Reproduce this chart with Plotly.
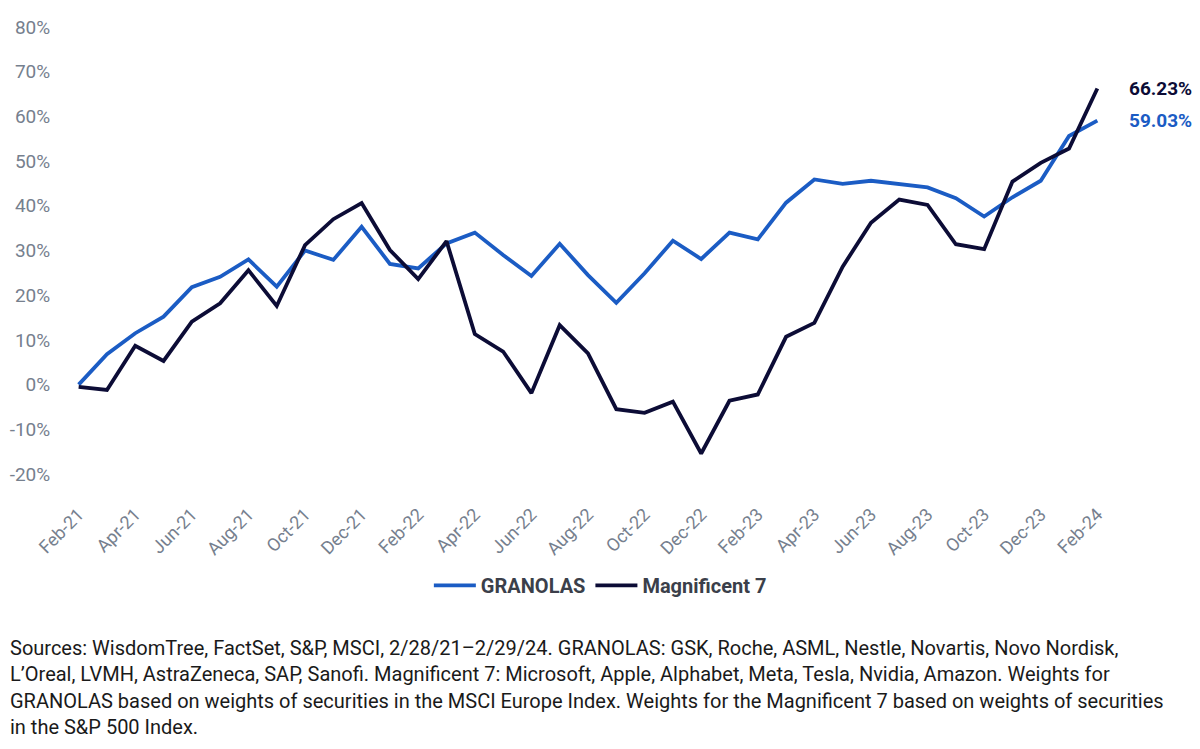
import plotly.graph_objects as go

# monthly cumulative returns (%), Feb-21 .. Feb-24
months = ['Feb-21', 'Mar-21', 'Apr-21', 'May-21', 'Jun-21', 'Jul-21', 'Aug-21', 'Sep-21',
          'Oct-21', 'Nov-21', 'Dec-21', 'Jan-22', 'Feb-22', 'Mar-22', 'Apr-22', 'May-22',
          'Jun-22', 'Jul-22', 'Aug-22', 'Sep-22', 'Oct-22', 'Nov-22', 'Dec-22', 'Jan-23',
          'Feb-23', 'Mar-23', 'Apr-23', 'May-23', 'Jun-23', 'Jul-23', 'Aug-23', 'Sep-23',
          'Oct-23', 'Nov-23', 'Dec-23', 'Jan-24', 'Feb-24']

granolas = [0.0, 6.8, 11.5, 15.2, 21.8, 24.1, 28.0, 21.9, 30.0, 27.9, 35.3, 27.0, 26.0,
            31.6, 34.0, 29.0, 24.3, 31.5, 24.5, 18.3, 24.9, 32.2, 28.1, 34.0, 32.5, 40.7,
            45.9, 44.9, 45.6, 44.9, 44.1, 41.7, 37.6, 41.9, 45.6, 55.6, 59.03]

mag7 = [-0.5, -1.2, 8.7, 5.3, 14.1, 18.2, 25.6, 17.6, 31.2, 37.0, 40.6, 30.1, 23.6,
        32.1, 11.3, 7.4, -1.9, 13.3, 7.0, -5.5, -6.3, -3.8, -15.4, -3.6, -2.2, 10.7,
        13.8, 26.4, 36.2, 41.4, 40.2, 31.4, 30.3, 45.4, 49.6, 52.8, 66.23]

tick_months = months[::2]
y_ticks = [-20, -10, 0, 10, 20, 30, 40, 50, 60, 70, 80]
y_tick_labels = ['-20%', '-10%', '0%', '10%', '20%', '30%', '40%', '50%', '60%', '70%', '80%']

BLUE = '#1b5cc4'
NAVY = '#0c0c36'
GREY = '#76808e'
FONT = 'Roboto, Arial, sans-serif'

fig = go.Figure()

fig.add_trace(go.Scatter(x=months, y=granolas, mode='lines', name='GRANOLAS',
                         line=dict(color=BLUE, width=3.8)))
fig.add_trace(go.Scatter(x=months, y=mag7, mode='lines', name='Magnificent 7',
                         line=dict(color=NAVY, width=3.8)))

# end-of-line value labels
for series, color in [(mag7, NAVY), (granolas, BLUE)]:
    fig.add_annotation(x=months[-1], y=series[-1], text='<b>%.2f%%</b>' % series[-1],
                       showarrow=False, xanchor='left', yanchor='middle', xshift=30,
                       font=dict(family=FONT, size=19, color=color))

# source note
notes = [
    'Sources: WisdomTree, FactSet, S&P, MSCI, 2/28/21–2/29/24. GRANOLAS: GSK, Roche, ASML, Nestle, Novartis, Novo Nordisk,',
    'L’Oreal, LVMH, AstraZeneca, SAP, Sanofi. Magnificent 7: Microsoft, Apple, Alphabet, Meta, Tesla, Nvidia, Amazon. Weights for',
    'GRANOLAS based on weights of securities in the MSCI Europe Index. Weights for the Magnificent 7 based on weights of securities',
    'in the S&P 500 Index.',
]
for k, line in enumerate(notes):
    fig.add_annotation(xref='paper', yref='paper', x=-0.063, y=-0.355 - k * 0.0565,
                       text=line, showarrow=False, xanchor='left', yanchor='middle',
                       font=dict(family=FONT, size=20, color='#1a1a1a'))

fig.update_layout(
    width=1200, height=749,
    paper_bgcolor='white', plot_bgcolor='white',
    margin=dict(l=65, r=105, t=10, b=274),
    font=dict(family=FONT, color=GREY, size=16),
    showlegend=True,
    legend=dict(orientation='h', x=0.512, xanchor='center', y=-0.22, yanchor='middle',
                font=dict(family=FONT, size=20, color='#3b3f4a', weight='bold'),
                itemwidth=42),
    xaxis=dict(type='category', range=[-0.2, 36.2], tickmode='array',
               tickvals=tick_months, ticktext=tick_months, tickangle=-45,
               showgrid=False, zeroline=False, showline=False, automargin=False,
               ticks='outside', ticklen=13, tickcolor='rgba(0,0,0,0)',
               tickfont=dict(family=FONT, size=18, color=GREY)),
    yaxis=dict(range=[-22, 82], tickmode='array', tickvals=y_ticks, ticktext=y_tick_labels,
               showgrid=False, zeroline=False, showline=False, automargin=False,
               ticks='outside', ticklen=18, tickcolor='rgba(0,0,0,0)',
               tickfont=dict(family=FONT, size=19, color=GREY)),
)

fig.write_html('out.html')
